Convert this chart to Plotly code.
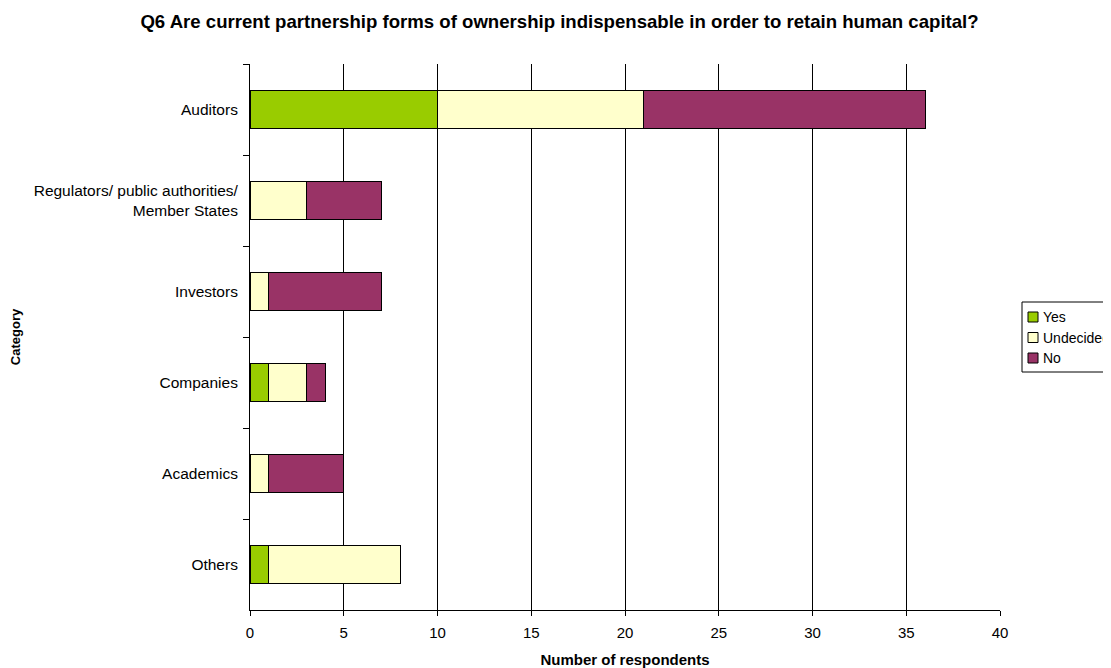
import plotly.graph_objects as go

categories = ["Auditors", "Regulators/ public authorities/<br>Member States", "Investors",
              "Companies", "Academics", "Others"]
series_names = ["Yes", "Undecided", "No"]
yes_vals = [10, 0, 0, 1, 0, 1]
undecided_vals = [11, 3, 1, 2, 1, 7]
no_vals = [15, 4, 6, 1, 4, 0]
series_colors = ["#99CC00", "#FFFFCC", "#993366"]
x_ticks = [0, 5, 10, 15, 20, 25, 30, 35, 40]

FONT = "Liberation Sans, Arial, sans-serif"
# page body has an 8px margin; figure is sized so the plot lands on the reference pixels
OFF = 8
W, H = 1111 - OFF, 668 - OFF
ML, MR, MT, MB = 250 - OFF, 111, 64 - OFF, 58
PX0, PX1, PY0, PY1 = 250, 1000, 64, 610  # screen coords of plot area


def px(sx):
    return (sx - PX0) / (PX1 - PX0)


def py(sy):
    return (PY1 - sy) / (PY1 - PY0)


fig = go.Figure()
for name, vals, color in zip(series_names, [yes_vals, undecided_vals, no_vals], series_colors):
    fig.add_trace(go.Bar(y=categories, x=vals, name=name, orientation="h",
                         marker=dict(color=color, line=dict(color="black", width=1)),
                         showlegend=False))

# custom Excel-like legend
shapes = [dict(type="rect", xref="paper", yref="paper", x0=px(1022), x1=px(1125),
               y0=py(372), y1=py(302), line=dict(color="black", width=1),
               fillcolor="white", layer="above")]
annotations = []
for i, (name, color) in enumerate(zip(series_names, series_colors)):
    cy = 317 + i * 20.5
    shapes.append(dict(type="rect", xref="paper", yref="paper", x0=px(1028), x1=px(1038),
                       y0=py(cy + 5), y1=py(cy - 5), line=dict(color="black", width=1),
                       fillcolor=color, layer="above"))
    annotations.append(dict(text=name, xref="paper", yref="paper", x=px(1041), y=py(cy),
                            xanchor="left", yanchor="middle", showarrow=False,
                            font=dict(size=14, family=FONT, color="black")))

fig.update_layout(
    barmode="stack",
    bargap=0.59,
    width=W, height=H,
    paper_bgcolor="white", plot_bgcolor="white",
    margin=dict(l=ML, r=MR, t=MT, b=MB, autoexpand=False),
    font=dict(family=FONT, size=15, color="black"),
    title=dict(text="<b>Q6 Are current partnership forms of ownership indispensable in order to retain human capital?</b>",
               x=0.5, xref="container", y=1 - 13 / H, yref="container", yanchor="middle",
               font=dict(size=18.6)),
    showlegend=False,
    shapes=shapes,
    annotations=annotations,
)
fig.update_xaxes(range=[0, 40], tickvals=x_ticks, showgrid=True, gridcolor="black",
                 gridwidth=1, showline=True, linecolor="black", ticks="outside",
                 ticklen=5, tickcolor="black", zeroline=False, ticklabelstandoff=4,
                 title=dict(text="<b>Number of respondents</b>", font=dict(size=15), standoff=14))
fig.update_yaxes(categoryorder="array", categoryarray=categories, autorange="reversed",
                 showline=True, linecolor="black", ticks="outside", ticklen=6,
                 tickcolor="black", tickson="boundaries", showgrid=False,
                 ticklabelstandoff=8, tickfont=dict(size=15.5),
                 title=dict(text="<b>Category</b>", font=dict(size=13), standoff=11))
fig.write_html("out.html")
